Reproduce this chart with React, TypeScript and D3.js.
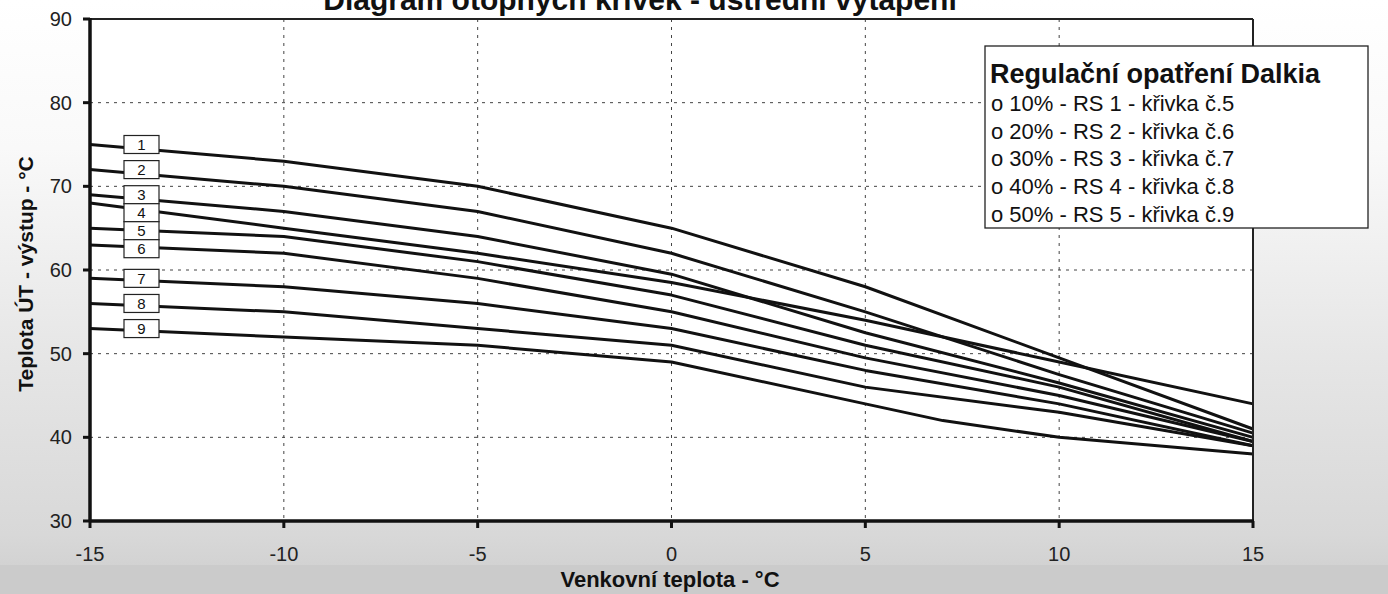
import * as d3 from "d3";

// venkovni teplota (x) a teplota UT vystup (y) pro krivky 1-9
const outdoorTemps = [-15, -10, -5, 0, 5, 10, 15];
const curve1 = [75, 73, 70, 65, 58, 49.5, 41];
const curve2 = [72, 70, 67, 62, 55, 47.5, 40.5];
const curve3 = [69, 67, 64, 59.5, 52.5, 46.5, 40];
const curve4 = [68, 65, 62, 58.5, 54, 49, 44];
const curve5 = [65, 64, 61, 57, 51, 46, 39.5];
const curve6 = [63, 62, 59, 55, 49.5, 45, 39.5];
const curve7 = [59, 58, 56, 53, 48, 44, 39];
const curve8 = [56, 55, 53, 51, 46, 43, 39];
const curve9Temps = [-15, -10, -5, 0, 5, 7, 10, 15];
const curve9 = [53, 52, 51, 49, 44, 42, 40, 38];

const curveNames = ["1", "2", "3", "4", "5", "6", "7", "8", "9"];
const xTicks = [-15, -10, -5, 0, 5, 10, 15];
const yTicks = [30, 40, 50, 60, 70, 80, 90];

const title = "Diagram otopných křivek - ústřední vytápění";
const xTitle = "Venkovní teplota - °C";
const yTitle = "Teplota ÚT - výstup - °C";
const legendTitle = "Regulační opatření Dalkia";
const legendItems = [
  "o 10% - RS 1 - křivka č.5",
  "o 20% - RS 2 - křivka č.6",
  "o 30% - RS 3 - křivka č.7",
  "o 40% - RS 4 - křivka č.8",
  "o 50% - RS 5 - křivka č.9",
];

const width = 1388;
const height = 594;
const left = 90;
const right = 1253;
const top = 19;
const bottom = 521;
const font = "'Liberation Sans', Arial, sans-serif";

export default function App() {
  const xScale = d3.scaleLinear().domain([-15, 15]).range([left, right]);
  const yScale = d3.scaleLinear().domain([30, 90]).range([bottom, top]);

  const series = [curve1, curve2, curve3, curve4, curve5, curve6, curve7, curve8].map(
    (vals) => vals.map((v, i) => [outdoorTemps[i], v] as [number, number])
  );
  series.push(curve9.map((v, i) => [curve9Temps[i], v] as [number, number]));

  const line = d3
    .line<[number, number]>()
    .x((d) => xScale(d[0]))
    .y((d) => yScale(d[1]));

  // stitky - posunout dolu aby se neprekryvaly
  const boxH = 18;
  const boxW = 35;
  const labelY: number[] = [];
  series.forEach((s, i) => {
    let y = yScale(s[0][1]);
    if (i > 0 && y < labelY[i - 1] + boxH) y = labelY[i - 1] + boxH;
    labelY.push(y);
  });

  return (
    <svg
      width={width}
      height={height}
      style={{ position: "absolute", left: 0, top: 0 }}
      fontFamily={font}
    >
      <defs>
        <linearGradient id="bg" x1="0" y1="0" x2="0" y2="1">
          <stop offset="0" stopColor="#ffffff" />
          <stop offset="0.25" stopColor="#f9f9f9" />
          <stop offset="0.6" stopColor="#e6e6e6" />
          <stop offset="0.9" stopColor="#d8d8d8" />
          <stop offset="1" stopColor="#cdcdcd" />
        </linearGradient>
      </defs>
      <rect x={0} y={0} width={width} height={height} fill="url(#bg)" />
      <rect x={0} y={565} width={width} height={height - 565} fill="#cbcbcb" />
      <rect x={left} y={top} width={right - left} height={bottom - top} fill="#fff" />

      {/* mrizka */}
      {xTicks.slice(1, -1).map((t) => (
        <line
          key={"gx" + t}
          x1={xScale(t)}
          x2={xScale(t)}
          y1={top}
          y2={bottom}
          stroke="#444"
          strokeWidth={1}
          strokeDasharray="3,5"
        />
      ))}
      {yTicks.slice(1, -1).map((t) => (
        <line
          key={"gy" + t}
          x1={left}
          x2={right}
          y1={yScale(t)}
          y2={yScale(t)}
          stroke="#444"
          strokeWidth={1}
          strokeDasharray="3,5"
        />
      ))}

      {/* krivky */}
      {series.map((s, i) => (
        <path
          key={"c" + i}
          d={line(s) as string}
          fill="none"
          stroke="#111"
          strokeWidth={3}
          strokeLinejoin="round"
        />
      ))}

      {/* ramecek */}
      <line x1={left} x2={right} y1={top} y2={top} stroke="#222" strokeWidth={2} />
      <line x1={right} x2={right} y1={top} y2={bottom} stroke="#222" strokeWidth={2} />
      <line x1={left} x2={left} y1={top - 1} y2={bottom + 1} stroke="#111" strokeWidth={3.5} />
      <line x1={left - 1} x2={right + 1} y1={bottom} y2={bottom} stroke="#111" strokeWidth={3.5} />

      {/* osy */}
      {yTicks.map((t) => (
        <g key={"yt" + t}>
          <line x1={left - 7} x2={left} y1={yScale(t)} y2={yScale(t)} stroke="#111" strokeWidth={3} />
          <text x={72} y={yScale(t) + 7} textAnchor="end" fontSize={20} fill="#222">
            {t}
          </text>
        </g>
      ))}
      {xTicks.map((t) => (
        <g key={"xt" + t}>
          <line x1={xScale(t)} x2={xScale(t)} y1={bottom} y2={bottom + 7} stroke="#111" strokeWidth={3} />
          <text x={xScale(t)} y={561} textAnchor="middle" fontSize={20} fill="#222">
            {t}
          </text>
        </g>
      ))}

      {/* cisla krivek */}
      {series.map((s, i) => (
        <g key={"lb" + i}>
          <rect
            x={xScale(-15) + 34}
            y={labelY[i] - boxH / 2}
            width={boxW}
            height={boxH}
            fill="#fff"
            stroke="#222"
            strokeWidth={1.2}
          />
          <text
            x={xScale(-15) + 34 + boxW / 2}
            y={labelY[i] + 5.5}
            textAnchor="middle"
            fontSize={15}
            fill="#111"
          >
            {curveNames[i]}
          </text>
        </g>
      ))}

      {/* legenda */}
      <rect x={985} y={46} width={383} height={182} fill="#fff" stroke="#222" strokeWidth={1.3} />
      <text x={990} y={83} fontSize={27} fontWeight="bold" fill="#111">
        {legendTitle}
      </text>
      {legendItems.map((t, i) => (
        <text key={"li" + i} x={991} y={111 + i * 27.7} fontSize={22} fill="#111">
          {t}
        </text>
      ))}

      {/* titulky */}
      <text x={640} y={10} textAnchor="middle" fontSize={30} fontWeight="bold" fill="#111">
        {title}
      </text>
      <text x={670} y={587} textAnchor="middle" fontSize={22} fontWeight="bold" fill="#111">
        {xTitle}
      </text>
      <text
        transform={`translate(33, 274) rotate(-90)`}
        textAnchor="middle"
        fontSize={21}
        fontWeight="bold"
        fill="#111"
      >
        {yTitle}
      </text>
    </svg>
  );
}
